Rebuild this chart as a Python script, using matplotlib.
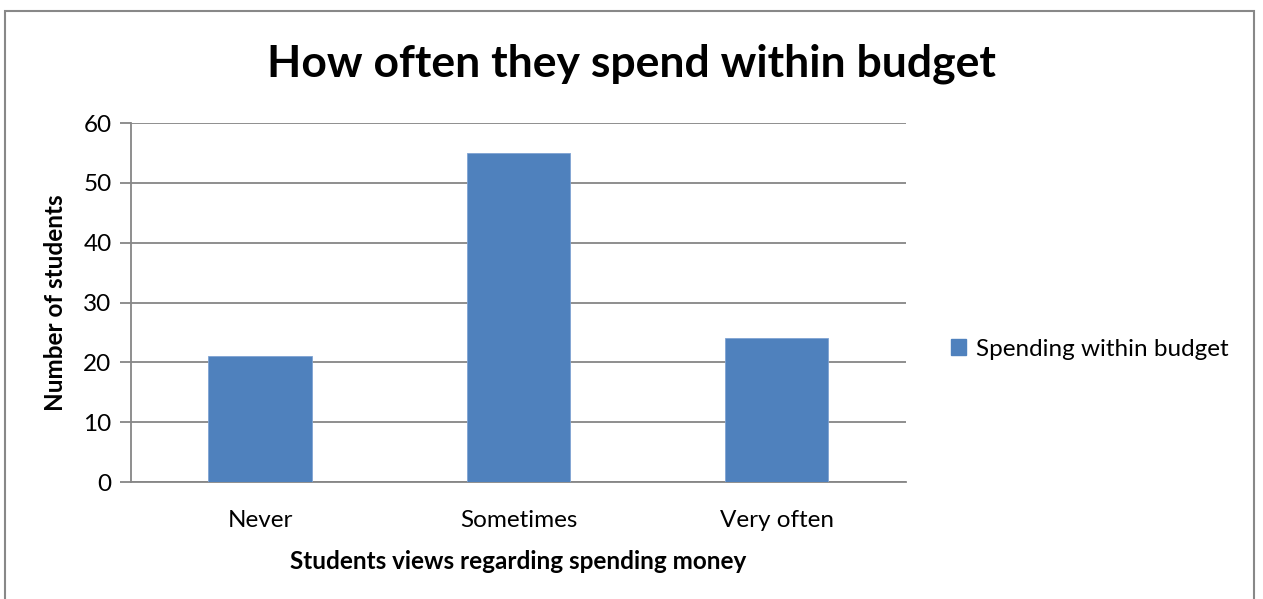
import matplotlib
matplotlib.use("Agg")
import matplotlib.pyplot as plt
from matplotlib.patches import Rectangle, Patch

plt.rcParams['font.family'] = ['Lato', 'DejaVu Sans']

categories = ['Never', 'Sometimes', 'Very often']
students = [21, 55, 24]
series_name = 'Spending within budget'
y_ticks = [0, 10, 20, 30, 40, 50, 60]

bar_color = '#4F81BD'
axis_gray = '#868686'

fig = plt.figure(figsize=(12.63, 5.99), dpi=100, facecolor='white')
ax = fig.add_axes([0.1037, 0.1953, 0.6136, 0.5993])

x = range(len(categories))
ax.bar(x, students, width=0.4, color=bar_color, edgecolor='#7FA3D3', linewidth=0.6, zorder=3)

ax.set_xlim(-0.5, len(categories) - 0.5)
ax.set_ylim(0, 60)
ax.set_yticks(y_ticks)
ax.set_xticks(list(x))
ax.set_xticklabels(categories)

ax.yaxis.grid(True, color=axis_gray, linewidth=1.3, zorder=0)
ax.set_axisbelow(True)
for side in ['top', 'right']:
    ax.spines[side].set_visible(False)
for side in ['left', 'bottom']:
    ax.spines[side].set_color(axis_gray)
    ax.spines[side].set_linewidth(1.3)

ax.tick_params(axis='y', length=8, width=1.3, color=axis_gray, labelsize=17.5, pad=6)
ax.tick_params(axis='x', length=0, labelsize=17.5, pad=20)

ax.set_ylabel('Number of students', fontsize=17.5, fontweight='bold', labelpad=12)
ax.set_xlabel('Students views regarding spending money', fontsize=17.5, fontweight='bold', labelpad=14)

fig.text(0.5, 0.893, 'How often they spend within budget', ha='center', va='center',
         fontsize=32, fontweight='bold')

handle = Patch(facecolor=bar_color, edgecolor=bar_color)
fig.legend([handle], [series_name], loc='center left', bbox_to_anchor=(0.736, 0.417),
           frameon=False, fontsize=17.5, handlelength=0.6, handleheight=0.6, handletextpad=0.4)

# outer chart frame
fig.patches.append(Rectangle((5 / 1263, -0.05), 1249 / 1263, 1.05 - 11 / 599,
                             transform=fig.transFigure, fill=False,
                             edgecolor='#888888', linewidth=1.5))

fig.savefig('out.png', dpi=100, facecolor='white')
